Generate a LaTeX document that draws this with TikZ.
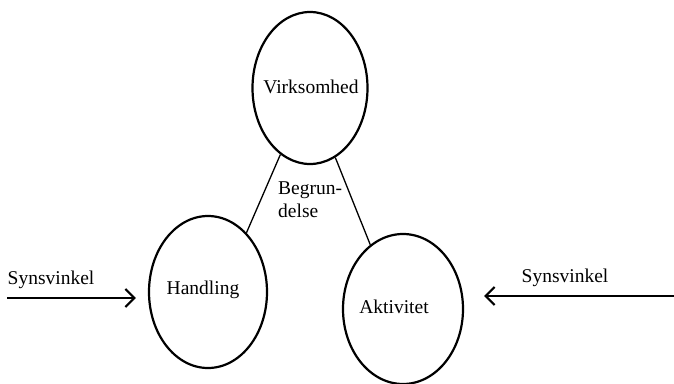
\documentclass[tikz,border=0pt]{standalone}
\usepackage{fontspec}
\setmainfont{Liberation Serif}
\usetikzlibrary{shapes.geometric,arrows.meta}
\tikzset{
  oval/.style={draw=black, line width=2.2pt, ellipse, inner sep=0pt},
  lbl/.style={font=\fontsize{19.5}{23}\selectfont, inner sep=0pt},
  link/.style={draw=black, line width=1.3pt},
  view/.style={draw=black, line width=2pt, -{Straight Barb[length=9pt,width=18pt,line width=2.2pt]}},
}
\begin{document}
\begin{tikzpicture}[x=1pt,y=-1pt]
\useasboundingbox[fill=white] (0,0) rectangle (674,383);
% ellipses
\node[oval, minimum width=115pt, minimum height=152pt] (V) at (310,88) {};
\node[oval, minimum width=118pt, minimum height=152pt] (H) at (208,292) {};
\node[oval, minimum width=120pt, minimum height=150pt] (A) at (403,309) {};
% texts in ellipses
\node[lbl] (Vt) at (311,87) {Virksomhed};
\node[lbl] (Ht) at (203,290) {Handling};
\node[lbl] (At) at (394,307) {Aktivitet};
% connecting lines
\draw[link] (V.246) -- (H.57);
\draw[link] (V.290) -- (A.117);
\node[lbl, align=left, anchor=north west] (B) at (278,182) {Begrun-\\delse};
% viewpoint arrows
\coordinate (Ls) at (7,298);
\coordinate (Rs) at (676,296);
\draw[view, shorten >=12pt] (Ls) -- (H.west |- Ls);
\draw[view, shorten >=20pt] (Rs) -- (A.east |- Rs);
\node[lbl] (Sl) at (51,280) {Synsvinkel};
\node[lbl] (Sr) at (565,278) {Synsvinkel};
\end{tikzpicture}
\end{document}
